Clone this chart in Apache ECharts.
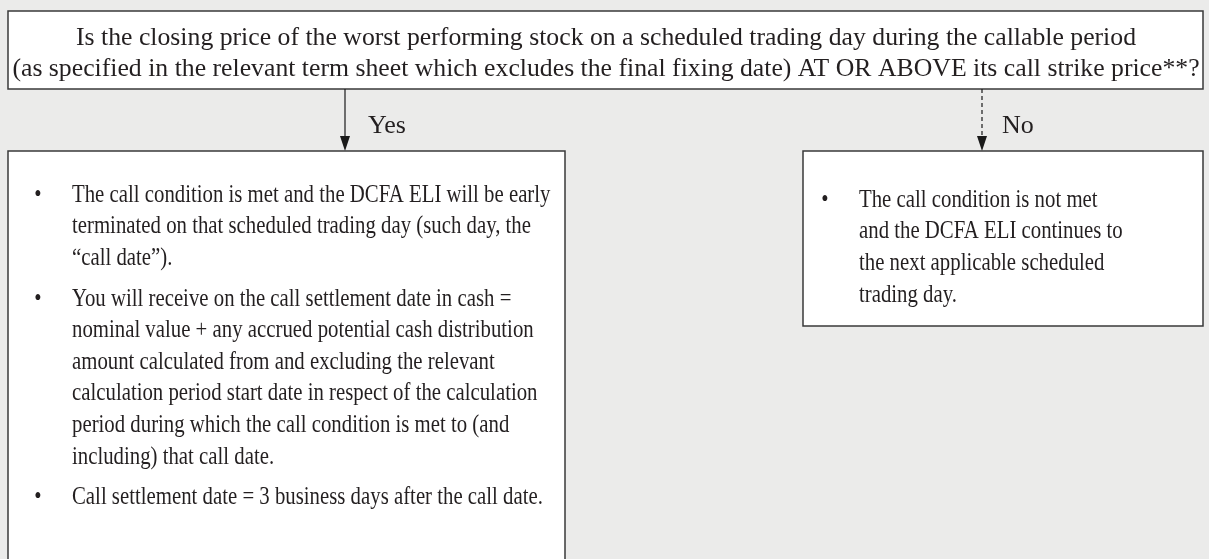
<!DOCTYPE html>
<html>
<head>
<meta charset="utf-8">
<script src="https://cdn.jsdelivr.net/npm/echarts@6/dist/echarts.min.js"></script>
<style>
  html, body { margin: 0; background: #ebebea; }
  #chart { width: 1209px; height: 559px; }
</style>
</head>
<body>
<div id="chart"></div>
<script>
// texts of the flow chart
const questionLines = [
  "Is the closing price of the worst performing stock on a scheduled trading day during the callable period",
  "(as specified in the relevant term sheet which excludes the final fixing date) AT OR ABOVE its call strike price**?"
];
const branchLabels = ["Yes", "No"];
const yesBullets = [
  [
    "The call condition is met and the DCFA ELI will be early",
    "terminated on that scheduled trading day (such day, the",
    "\u201ccall date\u201d)."
  ],
  [
    "You will receive on the call settlement date in cash =",
    "nominal value + any accrued potential cash distribution",
    "amount calculated from and excluding the relevant",
    "calculation period start date in respect of the calculation",
    "period during which the call condition is met to (and",
    "including) that call date."
  ],
  [
    "Call settlement date = 3 business days after the call date."
  ]
];
const noBullets = [
  [
    "The call condition is not met",
    "and the DCFA ELI continues to",
    "the next applicable scheduled",
    "trading day."
  ]
];

const FONT = '26px "Liberation Serif", "Times New Roman", serif';
const INK = "#231f20";
const LINE_H = 31.6;
const BULLET_GAP = 9;
const BODY_SCALE = 0.8; // body text in the source is set narrower
const HEAD_SCALE = 0.99;

function box(x, y, w, h) {
  return {
    type: "rect",
    shape: { x: x, y: y, width: w, height: h },
    style: { fill: "#ffffff", stroke: "#3a3a3a", lineWidth: 1.5 }
  };
}

function label(text, x, y, align, sx) {
  return {
    type: "text",
    x: x,
    y: y,
    scaleX: sx || 1,
    style: {
      text: text,
      font: FONT,
      fill: INK,
      align: align || "left",
      verticalAlign: "middle"
    }
  };
}

function arrow(x, y1, y2, dashed) {
  return [
    {
      type: "line",
      shape: { x1: x, y1: y1, x2: x, y2: y2 - 12 },
      style: { stroke: "#1a1a1a", lineWidth: 1.2, lineDash: dashed ? [4, 3] : null }
    },
    {
      type: "polygon",
      shape: { points: [[x - 5, y2 - 15], [x + 5, y2 - 15], [x, y2]] },
      style: { fill: "#1a1a1a" }
    }
  ];
}

function bulletList(list, bx, tx, y0) {
  const out = [];
  let y = y0;
  list.forEach((lines) => {
    out.push(label("\u2022", bx, y, "center", BODY_SCALE));
    lines.forEach((line) => {
      out.push(label(line, tx, y, "left", BODY_SCALE));
      y += LINE_H;
    });
    y += BULLET_GAP;
  });
  return out;
}

let elements = [];
// question box
elements.push(box(8, 11, 1195, 78));
questionLines.forEach((line, i) => {
  elements.push(label(line, 606, 38 + i * 31, "center", HEAD_SCALE));
});
// arrows and branch labels
elements = elements.concat(arrow(345, 89, 151, false));
elements = elements.concat(arrow(982, 89, 151, true));
elements.push(label(branchLabels[0], 368, 126));
elements.push(label(branchLabels[1], 1002, 126));
// result boxes
elements.push(box(8, 151, 557, 460));
elements.push(box(803, 151, 400, 175));
elements = elements.concat(bulletList(yesBullets, 38, 72, 195));
elements = elements.concat(bulletList(noBullets, 825, 859, 200));

const myChart = echarts.init(document.getElementById("chart"), null, { renderer: "canvas" });
myChart.setOption({
  backgroundColor: "#ebebea",
  animation: false,
  graphic: { elements: elements }
});
</script>
</body>
</html>
